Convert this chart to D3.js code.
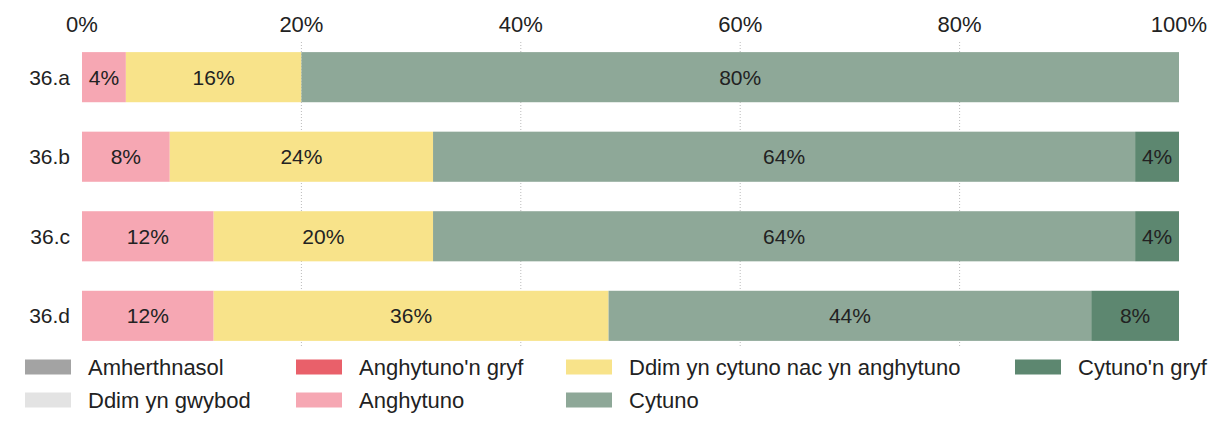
<!DOCTYPE html>
<meta charset="utf-8">
<style>
  body { margin: 0; background: #fff; }
  text { font-family: "Liberation Sans", Arial, sans-serif; fill: #222; }
</style>
<body>
<script src="https://d3js.org/d3.v7.min.js"></script>
<script>
// data
const categories = ['36.a', '36.b', '36.c', '36.d'];
const seriesNames = ['Anghytuno', 'Ddim yn cytuno nac yn anghytuno', 'Cytuno', "Cytuno'n gryf"];
const anghytuno = [4, 8, 12, 12];
const canol = [16, 24, 20, 36];
const cytuno = [80, 64, 64, 44];
const cytunoGryf = [0, 4, 4, 8];
const tickValues = [0, 20, 40, 60, 80, 100];
const legendItems = [
  ['Amherthnasol', '#a3a3a3'],
  ['Ddim yn gwybod', '#e3e3e3'],
  ["Anghytuno'n gryf", '#e9606a'],
  ['Anghytuno', '#f6a7b3'],
  ['Ddim yn cytuno nac yn anghytuno', '#f8e38a'],
  ['Cytuno', '#8ea898'],
  ["Cytuno'n gryf", '#5d8770']
];

const colour = d3.scaleOrdinal()
  .domain(seriesNames)
  .range(['#f6a7b3', '#f8e38a', '#8ea898', '#5d8770']);

const width = 1231, height = 426;
const svg = d3.select('body').append('svg')
  .attr('width', width)
  .attr('height', height);

const x = d3.scaleLinear().domain([0, 100]).range([82, 1179]);
const y = d3.scaleBand().domain(categories).range([37, 356]).paddingInner(0.37).paddingOuter(0.19);

// gridlines (dotted, faint)
svg.append('g')
  .selectAll('line')
  .data(tickValues.slice(1, -1))
  .join('line')
    .attr('x1', d => x(d)).attr('x2', d => x(d))
    .attr('y1', 42).attr('y2', 346)
    .attr('stroke', '#bbb')
    .attr('stroke-dasharray', '1,2');

// top axis labels
svg.append('g')
  .selectAll('text')
  .data(tickValues)
  .join('text')
    .attr('x', d => x(d))
    .attr('y', 32)
    .attr('text-anchor', 'middle')
    .style('font-size', '22px')
    .text(d => d + '%');

// stacked rows
const rows = categories.map((c, i) => {
  const vals = [anghytuno[i], canol[i], cytuno[i], cytunoGryf[i]];
  let acc = 0;
  return vals.map((v, k) => {
    const seg = { cat: c, name: seriesNames[k], v, x0: acc, x1: acc + v };
    acc += v;
    return seg;
  }).filter(s => s.v > 0);
});

const segs = svg.append('g')
  .selectAll('g')
  .data(rows.flat())
  .join('g');

segs.append('rect')
  .attr('x', d => x(d.x0))
  .attr('y', d => y(d.cat))
  .attr('width', d => x(d.x1) - x(d.x0))
  .attr('height', y.bandwidth())
  .attr('fill', d => colour(d.name));

segs.append('text')
  .attr('x', d => (x(d.x0) + x(d.x1)) / 2)
  .attr('y', d => y(d.cat) + y.bandwidth() / 2)
  .attr('dy', '0.35em')
  .attr('text-anchor', 'middle')
  .style('font-size', '21px')
  .text(d => d.v + '%');

// category labels
svg.append('g')
  .selectAll('text')
  .data(categories)
  .join('text')
    .attr('x', 70)
    .attr('y', d => y(d) + y.bandwidth() / 2)
    .attr('dy', '0.35em')
    .attr('text-anchor', 'end')
    .style('font-size', '21px')
    .text(d => d);

// legend: 4 columns, filled column by column
const colX = [25, 296, 566, 1015];
const rowY = [367, 400];
const legend = svg.append('g')
  .selectAll('g')
  .data(legendItems)
  .join('g')
    .attr('transform', (d, i) => {
      const col = i < 2 ? 0 : i < 4 ? 1 : i < 6 ? 2 : 3;
      const row = i < 6 ? i % 2 : 0;
      return `translate(${colX[col]},${rowY[row]})`;
    });

legend.append('rect')
  .attr('x', 0).attr('y', -7.5)
  .attr('width', 46).attr('height', 15)
  .attr('fill', d => d[1]);

legend.append('text')
  .attr('x', 63)
  .attr('dy', '0.35em')
  .style('font-size', '22px')
  .text(d => d[0]);
</script>
</body>
